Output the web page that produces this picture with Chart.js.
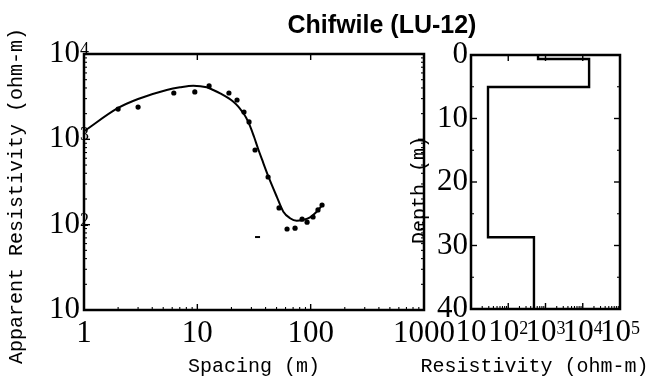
<!DOCTYPE html>
<html><head><meta charset="utf-8">
<script src="https://cdn.jsdelivr.net/npm/chart.js@4.4.1/dist/chart.umd.min.js"></script>
<style>
html,body{margin:0;padding:0;background:#fff;}
#wrap{position:relative;width:651px;height:382px;overflow:hidden;background:#fff;}
canvas{position:absolute;left:0;top:0;}
#title{position:absolute;left:232px;width:300px;top:12px;text-align:center;font:bold 25px/24px "Liberation Sans",Arial,sans-serif;color:#000;white-space:nowrap;}
</style></head><body>
<div id="wrap">
<canvas id="left" width="651" height="382"></canvas>
<canvas id="right" width="651" height="382"></canvas>
<div id="title">Chifwile (LU-12)</div>
</div>
<script>
// ---------- data ----------
const obsSpacing = [2.0, 3.0, 6.2, 9.5, 12.7, 19.0, 22.4, 25.8, 28.6, 32.3, 42.1, 52.6, 61.9, 72.8, 84.0, 93.0, 105, 116, 126];
const obsRho     = [2260, 2390, 3490, 3590, 4220, 3490, 2890, 2090, 1600, 750, 362, 157, 89, 91, 116, 107, 123, 149, 170];
const fitSpacing = [1, 2.0, 3.0, 5.37, 7.03, 9.22, 12.1, 13.8, 15.9, 20.8, 23.0, 24.8, 26.9, 29.2, 31.7, 34.3, 37.2, 42.4, 50.2, 57.4, 65.8, 75.3, 86.2, 98.8, 113, 125];
const fitRho     = [1240, 2330, 2970, 3787, 4073, 4256, 4073, 3787, 3459, 2761, 2414, 2119, 1803, 1432, 1064, 781, 581, 365, 213, 142, 119, 111, 114, 122, 142, 166];
const markSpacing = [32.3];
const markRho     = [71.6];
const layerRho = [630, 14800, 28.6, 490];
const layerTop = [0, 0.63, 5.04, 28.7];
const modelBottom = 40;

// ---------- ticks / labels ----------
const spacingTicks = [1, 10, 100, 1000];
const spacingTickLabels = ['1', '10', '100', '1000'];
const rhoTicks = [10, 100, 1000, 10000];
const rhoTickExp = ['', '2', '3', '4'];
const resTicks = [10, 100, 1000, 10000, 100000];
const resTickExp = ['', '2', '3', '4', '5'];
const depthTicks = [0, 10, 20, 30, 40];
const depthTickLabels = ['0', '10', '20', '30', '40'];
const depthMinor = [5, 15, 25, 35];
const xTitleLeft = 'Spacing (m)';
const yTitleLeft = 'Apparent Resistivity (ohm-m)';
const xTitleRight = 'Resistivity (ohm-m)';
const yTitleRight = 'Depth (m)';

const SERIF = '"Liberation Serif","Times New Roman",serif';
const MONO = '"Liberation Mono","Courier New",monospace';

function logMinors(lo, hi) {
  const out = [];
  for (let d = lo; d < hi; d *= 10) for (let m = 2; m <= 9; m++) out.push(d * m);
  return out;
}

const annot = {
  id: 'annot',
  afterDatasetsDraw(chart, args, o) {
    const {ctx, chartArea: a} = chart;
    const xs = chart.scales.x, ys = chart.scales.y;
    ctx.save();
    ctx.strokeStyle = '#000';
    ctx.fillStyle = '#000';
    const seg = (x1, y1, x2, y2, w) => { ctx.lineWidth = w; ctx.beginPath(); ctx.moveTo(x1, y1); ctx.lineTo(x2, y2); ctx.stroke(); };
    (o.xMajor || []).forEach(v => { const p = xs.getPixelForValue(v); seg(p, a.bottom, p, a.bottom - 6, 1.4); seg(p, a.top, p, a.top + 6, 1.4); });
    (o.xMinor || []).forEach(v => { const p = xs.getPixelForValue(v); seg(p, a.bottom, p, a.bottom - 3, 1.1); });
    (o.yMajor || []).forEach(v => { const p = ys.getPixelForValue(v); seg(a.left, p, a.left + 6, p, 1.4); seg(a.right, p, a.right - 6, p, 1.4); });
    (o.yMinor || []).forEach(v => { const p = ys.getPixelForValue(v); seg(a.left, p, a.left + 3, p, 1.1); seg(a.right, p, a.right - 3, p, 1.1); });
    ctx.lineWidth = 2.5;
    ctx.strokeRect(a.left, a.top, a.right - a.left, a.bottom - a.top);
    // power-of-ten tick labels
    if (o.yPow) {
      o.yPow.values.forEach((v, i) => {
        const p = ys.getPixelForValue(v);
        ctx.font = '31px ' + SERIF; ctx.textAlign = 'right'; ctx.textBaseline = 'middle';
        ctx.fillText('10', a.left - 4, p);
        if (o.yPow.exp[i]) {
          ctx.font = '18px ' + SERIF; ctx.textAlign = 'left'; ctx.textBaseline = 'alphabetic';
          ctx.fillText(o.yPow.exp[i], a.left - 4, p + 1);
        }
      });
    }
    if (o.xPow) {
      o.xPow.values.forEach((v, i) => {
        const p = xs.getPixelForValue(v);
        ctx.font = '31px ' + SERIF;
        const wb = ctx.measureText('10').width;
        ctx.font = '18px ' + SERIF;
        const we = o.xPow.exp[i] ? ctx.measureText(o.xPow.exp[i]).width : 0;
        const x0 = p - (wb + we) / 2;
        const cy = a.bottom + 24;
        ctx.font = '31px ' + SERIF; ctx.textAlign = 'left'; ctx.textBaseline = 'middle';
        ctx.fillText('10', x0, cy);
        if (o.xPow.exp[i]) {
          ctx.font = '18px ' + SERIF; ctx.textBaseline = 'alphabetic';
          ctx.fillText(o.xPow.exp[i], x0 + wb, cy + 1);
        }
      });
    }
    // axis titles
    ctx.font = '20px ' + MONO;
    ctx.textAlign = 'center'; ctx.textBaseline = 'alphabetic';
    if (o.xTitle) ctx.fillText(o.xTitle.text, (a.left + a.right) / 2 + o.xTitle.dx, o.xTitle.y);
    if (o.yTitle) {
      ctx.save();
      ctx.translate(o.yTitle.x, (a.top + a.bottom) / 2 + o.yTitle.dy);
      ctx.rotate(-Math.PI / 2);
      ctx.fillText(o.yTitle.text, 0, 0);
      ctx.restore();
    }
    ctx.restore();
  }
};

Chart.defaults.color = '#000';
Chart.defaults.font.family = SERIF;

const noGrid = {display: false, drawTicks: false};

new Chart(document.getElementById('left'), {
  type: 'scatter',
  data: {
    datasets: [
      {label: 'Model curve', data: fitSpacing.map((x, i) => ({x, y: fitRho[i]})), showLine: true,
       borderColor: '#000', borderWidth: 2, pointRadius: 0, cubicInterpolationMode: 'monotone', fill: false},
      {label: 'Field data', data: obsSpacing.map((x, i) => ({x, y: obsRho[i]})), showLine: false,
       pointRadius: 2.6, backgroundColor: '#000', borderColor: '#000', borderWidth: 0},
      {label: 'Mark', data: markSpacing.map((x, i) => ({x, y: markRho[i]})), showLine: false,
       pointStyle: 'dash', pointRadius: 5, borderColor: '#000', borderWidth: 2}
    ]
  },
  options: {
    responsive: false, animation: false, events: [],
    layout: {padding: {left: 0, top: 54, right: 227, bottom: 0}},
    plugins: {
      legend: {display: false}, tooltip: {enabled: false},
      annot: {
        xMajor: [10, 100], xMinor: logMinors(1, 1000),
        yMajor: [100, 1000], yMinor: logMinors(10, 10000),
        yPow: {values: rhoTicks, exp: rhoTickExp},
        xTitle: {text: xTitleLeft, dx: 0, y: 372},
        yTitle: {text: yTitleLeft, x: 22, dy: 14}
      }
    },
    scales: {
      x: {type: 'logarithmic', min: 1, max: 1000,
          afterBuildTicks: s => { s.ticks = spacingTicks.map(v => ({value: v})); },
          afterFit: s => { s.height = 72; },
          grid: noGrid, border: {display: false},
          ticks: {callback: (v, i) => spacingTickLabels[i], font: {family: SERIF, size: 31}, color: '#000',
                  padding: 5, autoSkip: false, maxRotation: 0, minRotation: 0}},
      y: {type: 'logarithmic', min: 10, max: 10000,
          afterBuildTicks: s => { s.ticks = rhoTicks.map(v => ({value: v})); },
          afterFit: s => { s.width = 84; },
          grid: noGrid, border: {display: false},
          ticks: {display: false}}
    }
  },
  plugins: [annot]
});

const modelPts = [];
layerRho.forEach((r, i) => {
  const bottom = i + 1 < layerTop.length ? layerTop[i + 1] : modelBottom;
  modelPts.push({x: r, y: layerTop[i]});
  modelPts.push({x: r, y: bottom});
});

new Chart(document.getElementById('right'), {
  type: 'scatter',
  data: {
    datasets: [
      {label: 'Layer model', data: modelPts, showLine: true, borderColor: '#000', borderWidth: 2.4,
       pointRadius: 0, tension: 0, fill: false}
    ]
  },
  options: {
    responsive: false, animation: false, events: [],
    layout: {padding: {left: 405, top: 55, right: 31, bottom: 0}},
    plugins: {
      legend: {display: false}, tooltip: {enabled: false},
      annot: {
        xMajor: [100, 1000, 10000], xMinor: logMinors(10, 100000),
        yMajor: [10, 20, 30], yMinor: depthMinor,
        xPow: {values: resTicks, exp: resTickExp},
        xTitle: {text: xTitleRight, dx: -11, y: 372},
        yTitle: {text: yTitleRight, x: 425, dy: 8}
      }
    },
    scales: {
      x: {type: 'logarithmic', min: 10, max: 100000,
          afterBuildTicks: s => { s.ticks = resTicks.map(v => ({value: v})); },
          afterFit: s => { s.height = 73; },
          grid: noGrid, border: {display: false},
          ticks: {display: false}},
      y: {type: 'linear', reverse: true, min: 0, max: 40,
          afterBuildTicks: s => { s.ticks = depthTicks.map(v => ({value: v})); },
          afterFit: s => { s.width = 66; },
          grid: noGrid, border: {display: false},
          ticks: {callback: (v, i) => depthTickLabels[i], font: {family: SERIF, size: 31}, color: '#000', padding: 3}}
    }
  },
  plugins: [annot]
});
</script>
</body></html>
